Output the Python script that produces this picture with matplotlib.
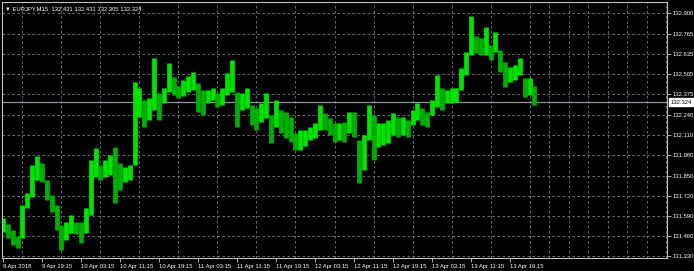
import numpy as np
import matplotlib
matplotlib.use("Agg")
import matplotlib.pyplot as plt

# EURJPY M15 chart, price path (hourly high/low)
highs = [131.576, 131.537, 131.498, 131.459, 131.660, 131.737, 131.918, 131.976, 131.931, 131.821,
         131.724, 131.660, 131.531, 131.550, 131.595, 131.550, 131.550, 131.640, 131.950, 132.028,
         131.918, 131.950, 131.983, 132.034, 131.931, 131.905, 131.918, 132.454, 132.416, 132.338,
         132.351, 132.609, 132.383, 132.416, 132.577, 132.487, 132.428, 132.467, 132.493, 132.519,
         132.448, 132.403, 132.403, 132.416, 132.383, 132.416, 132.512, 132.596, 132.390, 132.383,
         132.416, 132.306, 132.286, 132.319, 132.383, 132.241, 132.338, 132.273, 132.260, 132.228,
         132.125, 132.144, 132.144, 132.164, 132.189, 132.306, 132.254, 132.222, 132.189, 132.189,
         132.196, 132.260, 132.260, 132.080, 132.112, 132.306, 132.241, 132.189, 132.189, 132.209,
         132.254, 132.228, 132.228, 132.209, 132.273, 132.319, 132.286, 132.260, 132.338, 132.499,
         132.416, 132.403, 132.416, 132.416, 132.545, 132.648, 132.881, 132.751, 132.738, 132.810,
         132.693, 132.777, 132.661, 132.583, 132.551, 132.564, 132.609, 132.480, 132.480, 132.431]
lows = [131.485, 131.447, 131.401, 131.382, 131.447, 131.640, 131.711, 131.821, 131.808, 131.692,
        131.614, 131.498, 131.369, 131.434, 131.479, 131.472, 131.414, 131.479, 131.595, 131.841,
        131.821, 131.841, 131.853, 131.673, 131.757, 131.808, 131.821, 131.918, 132.228, 132.164,
        132.209, 132.273, 132.209, 132.319, 132.390, 132.370, 132.351, 132.364, 132.390, 132.403,
        132.260, 132.241, 132.319, 132.338, 132.293, 132.306, 132.370, 132.390, 132.164, 132.273,
        132.286, 132.177, 132.144, 132.196, 132.222, 132.060, 132.164, 132.125, 132.092, 132.067,
        132.015, 132.015, 132.041, 132.080, 132.092, 132.144, 132.144, 132.112, 132.067, 132.080,
        132.067, 132.125, 132.099, 131.802, 131.886, 132.080, 131.950, 132.034, 132.047, 132.060,
        132.112, 132.099, 132.112, 132.099, 132.177, 132.209, 132.177, 132.164, 132.241, 132.293,
        132.273, 132.319, 132.319, 132.325, 132.403, 132.499, 132.629, 132.642, 132.629, 132.629,
        132.596, 132.648, 132.519, 132.422, 132.454, 132.467, 132.499, 132.357, 132.370, 132.305]

last_ohlc = [132.431, 132.431, 132.305, 132.324]
price_ticks = [132.900, 132.765, 132.635, 132.505, 132.375, 132.240, 132.110,
               131.980, 131.850, 131.720, 131.590, 131.460, 131.330]
time_labels = ["9 Apr 2018", "9 Apr 19:15", "10 Apr 03:15", "10 Apr 11:15", "10 Apr 19:15",
               "11 Apr 03:15", "11 Apr 11:15", "11 Apr 19:15", "12 Apr 03:15", "12 Apr 11:15",
               "12 Apr 19:15", "13 Apr 03:15", "13 Apr 11:15", "13 Apr 19:15"]
bars_per_label = 8

plt.rcParams["font.family"] = ["Liberation Sans", "DejaVu Sans"]
fs = 4.2

highs = np.array(highs)
lows = np.array(lows)
x = np.arange(len(highs))

fig = plt.figure(figsize=(6.94, 2.71), dpi=100, facecolor="black")
ax = fig.add_axes([2 / 694, 13 / 271, 665 / 694, 256 / 271], facecolor="black")

# bar colours: brighter when the bar's midpoint moves up
mid = (highs + lows) / 2
up = np.r_[True, mid[1:] >= mid[:-1]]
ax.vlines(x[up], lows[up], highs[up], color="#00e400", linewidth=3.4)
ax.vlines(x[~up], lows[~up], highs[~up], color="#00b000", linewidth=3.4)

# last price line
ax.axhline(last_ohlc[3], color="#8c96a0", linewidth=0.9, zorder=1)

ax.set_xlim(-0.2, 136.2)
ax.set_ylim(131.317, 132.971)

grid_kw = dict(color="#7a808a", linewidth=0.6, linestyle=(0, (3, 3)))
ax.set_yticks(price_ticks)
ax.set_yticklabels(["%.3f" % p for p in price_ticks])
ax.set_xticks(np.arange(len(time_labels)) * bars_per_label)
ax.set_xticklabels(time_labels)
ax.set_xticks(np.arange(0, 137, 4), minor=True)
ax.grid(True, axis="y", **grid_kw)
ax.grid(True, axis="x", which="minor", **grid_kw)
ax.set_axisbelow(True)

ax.yaxis.tick_right()
ax.tick_params(axis="y", colors="#c8c8c8", labelsize=fs, length=3, width=0.6, pad=1.2,
               labelcolor="white")
ax.tick_params(axis="x", colors="#c8c8c8", labelsize=fs, length=3, width=0.6, pad=1.5,
               labelcolor="white")
ax.tick_params(axis="x", which="minor", length=0)
for lab in ax.get_xticklabels():
    lab.set_ha("left")

for s in ax.spines.values():
    s.set_color("#c0c0c0")
    s.set_linewidth(0.8)

# last price box
ax.annotate("%.3f" % last_ohlc[3], xy=(1.0, last_ohlc[3]), xycoords=("axes fraction", "data"),
            xytext=(2.2, 0), textcoords="offset points", va="center", ha="left",
            fontsize=fs, color="black",
            bbox=dict(boxstyle="square,pad=0.25", fc="white", ec="white"))

# symbol header
ax.text(0.004, 0.985, "\u25bc EURJPY,M15  " + " ".join("%.3f" % v for v in last_ohlc),
        transform=ax.transAxes, ha="left", va="top", fontsize=fs, color="white",
        family=["Liberation Sans", "DejaVu Sans"])

fig.savefig("out.png", dpi=100, facecolor="black")
